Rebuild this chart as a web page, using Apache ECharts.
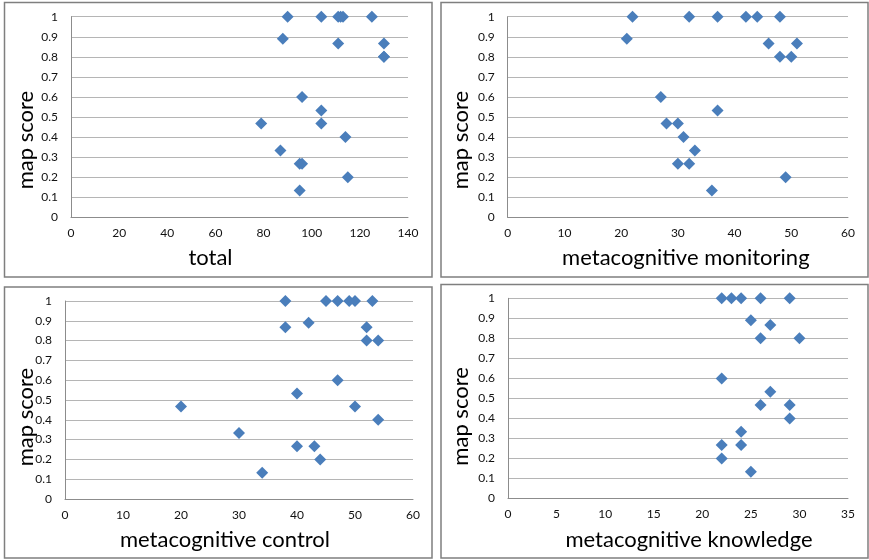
<!DOCTYPE html>
<html>
<head>
<meta charset="utf-8">
<script src="https://cdn.jsdelivr.net/npm/echarts@6/dist/echarts.min.js"></script>
<style>
html,body{margin:0;padding:0;background:#fff;}
#c{width:869px;height:560px;}
</style>
</head>
<body>
<div id="c"></div>
<script>
// ---- data ----
const yTitle = 'map score';
const xTitles = ['total', 'metacognitive monitoring', 'metacognitive control', 'metacognitive knowledge'];

const totalX = [90, 104, 111, 112, 113, 125, 88, 111, 130, 130, 130, 96, 104, 79, 104, 114, 87, 95, 96, 115, 95];
const totalY = [1, 1, 1, 1, 1, 1, 0.89, 0.867, 0.867, 0.8, 0.8, 0.6, 0.533, 0.467, 0.467, 0.4, 0.333, 0.267, 0.267, 0.2, 0.133];

const monitoringX = [22, 32, 37, 42, 44, 48, 21, 46, 51, 48, 50, 27, 37, 28, 30, 31, 33, 30, 32, 49, 36];
const monitoringY = [1, 1, 1, 1, 1, 1, 0.89, 0.867, 0.867, 0.8, 0.8, 0.6, 0.533, 0.467, 0.467, 0.4, 0.333, 0.267, 0.267, 0.2, 0.133];

const controlX = [38, 45, 47, 49, 50, 53, 42, 38, 52, 52, 54, 47, 40, 20, 50, 54, 30, 40, 43, 44, 34];
const controlY = [1, 1, 1, 1, 1, 1, 0.89, 0.867, 0.867, 0.8, 0.8, 0.6, 0.533, 0.467, 0.467, 0.4, 0.333, 0.267, 0.267, 0.2, 0.133];

const knowledgeX = [22, 23, 24, 26, 29, 25, 27, 26, 30, 22, 27, 26, 29, 29, 24, 22, 24, 22, 25];
const knowledgeY = [1, 1, 1, 1, 1, 0.89, 0.867, 0.8, 0.8, 0.6, 0.533, 0.467, 0.467, 0.4, 0.333, 0.267, 0.267, 0.2, 0.133];

const xMax = [140, 60, 60, 35];
const xInterval = [20, 10, 10, 5];
const yMin = 0, yMax = 1, yInterval = 0.1;

// ---- layout / style ----
const FONT = 'Lato, "Open Sans", sans-serif';
const grids = [
  {left: 71, top: 16.7, width: 337, height: 200.6},
  {left: 507.7, top: 16.7, width: 340.3, height: 200.6},
  {left: 65, top: 301, width: 348, height: 198},
  {left: 508, top: 298.3, width: 340, height: 200.2}
];
const panels = [
  {x: 4.5, y: 2.5, w: 427.5, h: 274.5},
  {x: 441, y: 2.5, w: 427, h: 274.5},
  {x: 4.5, y: 287, w: 427.5, h: 271},
  {x: 441, y: 284.5, w: 427, h: 273.5}
];
const xNamePad = [[0, 58, 0, 0], [0, 0, 0, 16], [0, 28, 0, 0], [0, 0, 0, 22]];
const yNameGap = [34, 36, 28, 36];
const yNamePad = [[0, 46, 0, 0], [0, 46, 0, 0], [0, 34, 0, 0], [0, 36, 0, 0]];

const xs = [totalX, monitoringX, controlX, knowledgeX];
const ys = [totalY, monitoringY, controlY, knowledgeY];

const option = {
  backgroundColor: '#fff',
  animation: false,
  graphic: panels.map(p => ({
    type: 'rect', shape: {x: p.x, y: p.y, width: p.w, height: p.h},
    style: {fill: 'none', stroke: '#7f7f7f', lineWidth: 1.5}, silent: true
  })),
  grid: grids,
  xAxis: grids.map((g, i) => ({
    type: 'value', gridIndex: i, min: 0, max: xMax[i], interval: xInterval[i],
    name: xTitles[i], nameLocation: 'middle', nameGap: 30, nameMoveOverlap: false,
    nameTextStyle: {fontFamily: FONT, fontSize: 22, color: '#000', padding: xNamePad[i]},
    axisLine: {show: true, lineStyle: {color: '#8c8c8c', width: 1}},
    axisTick: {show: false},
    splitLine: {show: false},
    axisLabel: {fontFamily: FONT, fontSize: 12, color: '#111', margin: 10}
  })),
  yAxis: grids.map((g, i) => ({
    type: 'value', gridIndex: i, min: yMin, max: yMax, interval: yInterval,
    name: yTitle, nameLocation: 'middle', nameGap: yNameGap[i], nameMoveOverlap: false,
    nameTextStyle: {fontFamily: FONT, fontSize: 22, color: '#000', padding: yNamePad[i]},
    axisLine: {show: true, lineStyle: {color: '#8c8c8c', width: 1}},
    axisTick: {show: false},
    splitLine: {show: true, lineStyle: {color: '#b5b5b5', width: 1}},
    axisLabel: {fontFamily: FONT, fontSize: 12, color: '#111', margin: 13,
      formatter: v => String(Math.round(v * 10) / 10)}
  })),
  series: xs.map((xv, i) => ({
    type: 'scatter', xAxisIndex: i, yAxisIndex: i,
    symbol: 'diamond', symbolSize: 12,
    itemStyle: {color: '#4A7EBB', opacity: 1},
    data: xv.map((x, j) => [x, ys[i][j]])
  }))
};

const chart = echarts.init(document.getElementById('c'), null, {renderer: 'canvas'});
chart.setOption(option);
</script>
</body>
</html>
